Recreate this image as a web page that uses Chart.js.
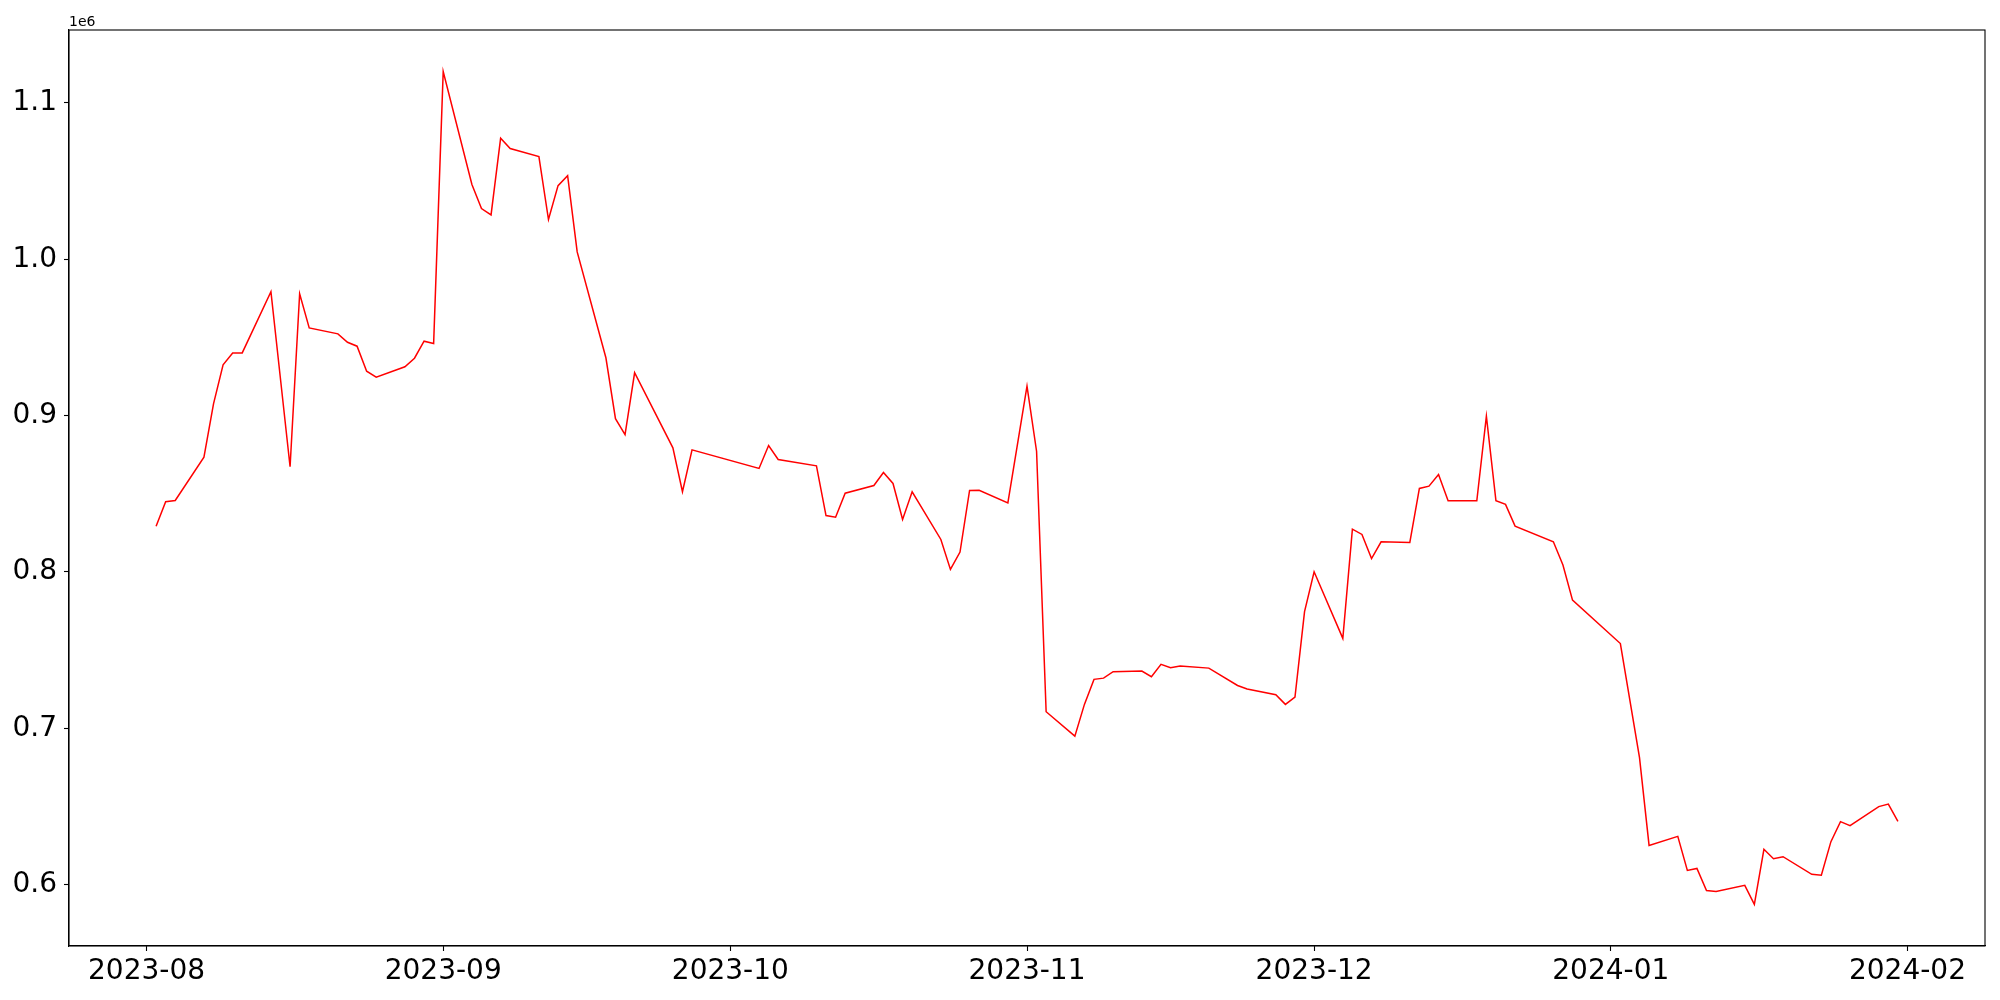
<!DOCTYPE html>
<html>
<head>
<meta charset="utf-8">
<script src="https://cdn.jsdelivr.net/npm/chart.js@4.4.0/dist/chart.umd.min.js"></script>
<style>
  html, body { margin: 0; padding: 0; background: #fff; }
  canvas { display: block; }
</style>
</head>
<body>
<canvas id="c" width="2000" height="1000"></canvas>
<script>
// ---- data ----
const dates = [
  "2023-08-02","2023-08-03","2023-08-04","2023-08-07","2023-08-08","2023-08-09","2023-08-10","2023-08-11",
  "2023-08-14","2023-08-16","2023-08-17","2023-08-18","2023-08-21","2023-08-22","2023-08-23","2023-08-24",
  "2023-08-25","2023-08-28","2023-08-29","2023-08-30","2023-08-31","2023-09-01","2023-09-04","2023-09-05",
  "2023-09-06","2023-09-07","2023-09-08","2023-09-11","2023-09-12","2023-09-13","2023-09-14","2023-09-15",
  "2023-09-18","2023-09-19","2023-09-20","2023-09-21","2023-09-25","2023-09-26","2023-09-27","2023-10-04",
  "2023-10-05","2023-10-06","2023-10-10","2023-10-11","2023-10-12","2023-10-13","2023-10-16","2023-10-17",
  "2023-10-18","2023-10-19","2023-10-20","2023-10-23","2023-10-24","2023-10-25","2023-10-26","2023-10-27",
  "2023-10-30","2023-11-01","2023-11-02","2023-11-03","2023-11-06","2023-11-07","2023-11-08","2023-11-09",
  "2023-11-10","2023-11-13","2023-11-14","2023-11-15","2023-11-16","2023-11-17","2023-11-20","2023-11-23",
  "2023-11-24","2023-11-27","2023-11-28","2023-11-29","2023-11-30","2023-12-01","2023-12-04","2023-12-05",
  "2023-12-06","2023-12-07","2023-12-08","2023-12-11","2023-12-12","2023-12-13","2023-12-14","2023-12-15",
  "2023-12-18","2023-12-19","2023-12-20","2023-12-21","2023-12-22","2023-12-26","2023-12-27","2023-12-28",
  "2024-01-02","2024-01-04","2024-01-05","2024-01-08","2024-01-09","2024-01-10","2024-01-11","2024-01-12",
  "2024-01-15","2024-01-16","2024-01-17","2024-01-18","2024-01-19","2024-01-22","2024-01-23","2024-01-24",
  "2024-01-25","2024-01-26","2024-01-29","2024-01-30","2024-01-31"
];
const values = [
  829300, 844900, 845700, 873400, 907500, 932500, 940100, 940100,
  979200, 867300, 977900, 956100, 952300, 946900, 944400, 928400,
  924600, 931200, 936700, 947600, 946100, 1120000, 1047800, 1032400,
  1028400, 1077400, 1070800, 1065700, 1025400, 1047100, 1053500, 1004700,
  937000, 898000, 887900, 927400, 879400, 851300, 878100, 866200,
  880900, 871900, 867900, 836100, 835000, 850400, 855300, 863600,
  856600, 833600, 851300, 820800, 801600, 812700, 852100, 852300,
  844200, 918800, 877200, 710600, 695000, 715300, 731300, 732100,
  736200, 736600, 733000, 740900, 738700, 739800, 738500, 727400,
  725100, 721500, 715300, 720000, 774600, 800100, 757500, 827400,
  824000, 808600, 819300, 818900, 853400, 854900, 862300, 845500,
  845500, 899600, 845500, 843200, 829300, 819300, 804400, 782000,
  754200, 681200, 625100, 630900, 609100, 610400, 596300, 595700,
  599600, 587400, 622600, 616600, 617900, 606600, 606000, 627500,
  640300, 637700, 649900, 651500, 640500
];
const xTickLabels = ["2023-08","2023-09","2023-10","2023-11","2023-12","2024-01","2024-02"];
const yTickValues = [600000, 700000, 800000, 900000, 1000000, 1100000];
const yScaleFactor = 1e6;
const yOffsetLabel = "1e6";

// ---- helpers ----
const DAY = 86400000;
const toDay = s => { const p = s.split('-').map(Number); return Date.UTC(p[0], p[1] - 1, p[2] || 1) / DAY; };
const points = dates.map((d, i) => ({ x: toDay(d), y: values[i] }));
const xs = points.map(p => p.x), ys = points.map(p => p.y);
const xMin = Math.min(...xs), xMax = Math.max(...xs), xPad = (xMax - xMin) * 0.05;
const yMin = Math.min(...ys), yMax = Math.max(...ys), yPad = (yMax - yMin) * 0.05;
const xTickMap = new Map(xTickLabels.map(t => [toDay(t), t]));

const FONT = "'DejaVu Sans', 'Liberation Sans', sans-serif";

const framePlugin = {
  id: 'frame',
  afterDraw(chart) {
    const { ctx, chartArea: a } = chart;
    ctx.save();
    ctx.strokeStyle = '#000';
    ctx.lineWidth = 1.1;
    ctx.strokeRect(a.left, a.top, a.right - a.left, a.bottom - a.top);
    ctx.fillStyle = '#000';
    ctx.font = "14px " + FONT;
    ctx.textAlign = 'left';
    ctx.textBaseline = 'alphabetic';
    ctx.fillText(yOffsetLabel, a.left, a.top - 4);
    ctx.restore();
  }
};

new Chart(document.getElementById('c'), {
  type: 'line',
  data: {
    datasets: [{
      data: points,
      borderColor: '#ff0000',
      borderWidth: 1.5,
      pointRadius: 0,
      tension: 0,
      fill: false
    }]
  },
  options: {
    responsive: false,
    animation: false,
    devicePixelRatio: 1,
    parsing: false,
    normalized: true,
    layout: { padding: { top: 30, right: 15, left: 0, bottom: 0 } },
    plugins: { legend: { display: false }, tooltip: { enabled: false } },
    scales: {
      x: {
        type: 'linear',
        min: xMin - xPad,
        max: xMax + xPad,
        afterBuildTicks: s => { s.ticks = xTickLabels.map(t => ({ value: toDay(t) })); },
        afterFit: s => { s.height = 54; },
        ticks: {
          autoSkip: false, maxRotation: 0, minRotation: 0, padding: 4,
          color: '#000', font: { family: FONT, size: 28 },
          callback: v => xTickMap.get(v) || ''
        },
        grid: { drawOnChartArea: false, drawTicks: true, tickLength: 5, tickColor: '#000', tickWidth: 1.1, color: '#000' },
        border: { display: true, color: '#000', width: 1.1 }
      },
      y: {
        type: 'linear',
        min: yMin - yPad,
        max: yMax + yPad,
        afterBuildTicks: s => { s.ticks = yTickValues.map(v => ({ value: v })); },
        afterFit: s => { s.width = 69; },
        ticks: {
          padding: 7, color: '#000', font: { family: FONT, size: 28 },
          callback: v => (v / yScaleFactor).toFixed(1)
        },
        grid: { drawOnChartArea: false, drawTicks: true, tickLength: 5, tickColor: '#000', tickWidth: 1.1, color: '#000' },
        border: { display: true, color: '#000', width: 1.1 }
      }
    }
  },
  plugins: [framePlugin]
});
</script>
</body>
</html>
